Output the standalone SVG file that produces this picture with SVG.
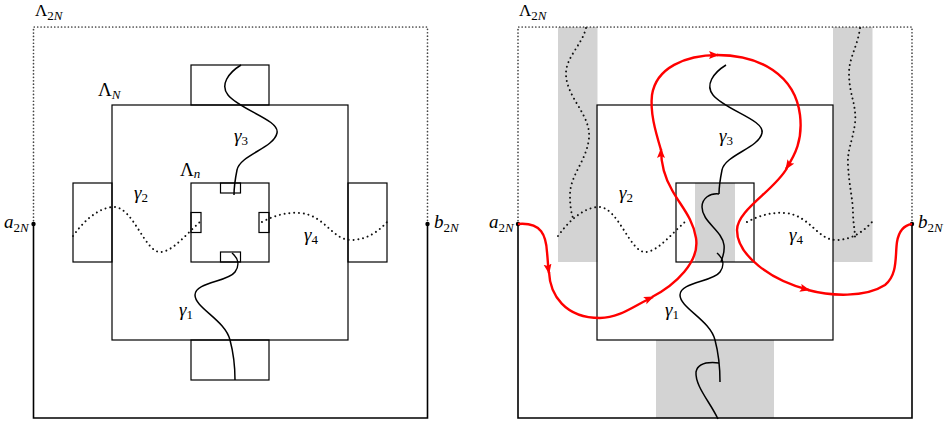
<svg xmlns="http://www.w3.org/2000/svg" width="952" height="424" viewBox="0 0 952 424">
<defs>
<style>
.box{fill:none;stroke:#000;stroke-width:1.2}
.frame{fill:none;stroke:#000;stroke-width:1.6}
.dotf{fill:none;stroke:#444;stroke-width:1.7;stroke-dasharray:0.01 3.4;stroke-linecap:round}
.dotc{fill:none;stroke:#111;stroke-width:2;stroke-dasharray:0.01 4.8;stroke-linecap:round}
.curve{fill:none;stroke:#000;stroke-width:1.5}
.red{fill:none;stroke:#ff0000;stroke-width:2.4;stroke-linejoin:round}
.shade{fill:#d3d3d3;stroke:none}
.t{font-family:"Liberation Serif","DejaVu Serif",serif;font-size:19px;fill:#000}
.top{font-size:17px}
.i{font-style:italic}
.s{font-size:13px}
</style>
<marker id="arr" markerUnits="userSpaceOnUse" markerWidth="12" markerHeight="10" refX="9" refY="4" orient="auto">
<path d="M0,0 L10,4 L0,8 L2,4 Z" fill="#ff0000"/>
</marker>
</defs>
<rect width="952" height="424" fill="#fff"/>

<!-- LEFT DIAGRAM -->
<g id="left-lambda2N">
<path class="dotf" d="M33.5,224 V27 H427.5 V224"/>
<path class="frame" d="M33.5,224 V418 H427.5 V224"/>
<circle cx="33.5" cy="224" r="2.2"/>
<circle cx="427.5" cy="224" r="2.2"/>
<text class="t top" x="35" y="16">Λ<tspan class="s" dy="4">2</tspan><tspan class="s i">N</tspan></text>
<text class="t i" x="4" y="228">a<tspan class="s" dy="4" font-style="normal">2</tspan><tspan class="s">N</tspan></text>
<text class="t i" x="434" y="228">b<tspan class="s" dy="4" font-style="normal">2</tspan><tspan class="s">N</tspan></text>
</g>
<g id="left-lambdaN">
<rect class="box" x="112" y="105" width="236" height="235"/>
<text class="t" x="98" y="96">Λ<tspan class="s i" dy="3">N</tspan></text>
</g>
<g id="left-box-top"><rect class="box" x="191" y="65" width="78" height="40"/></g>
<g id="left-box-bottom"><rect class="box" x="191" y="340" width="78" height="40"/></g>
<g id="left-box-left"><rect class="box" x="73" y="183" width="39" height="79"/></g>
<g id="left-box-right"><rect class="box" x="348" y="183" width="39" height="79"/></g>
<g id="left-lambdan">
<rect class="box" x="191" y="183" width="78" height="79"/>
<rect class="box" x="220.5" y="183" width="20" height="10"/>
<rect class="box" x="220.5" y="252" width="20" height="10"/>
<rect class="box" x="191" y="212.5" width="10" height="20"/>
<rect class="box" x="259" y="212.5" width="10" height="20"/>
<text class="t" x="180" y="176">Λ<tspan class="s i" dy="2">n</tspan></text>
</g>
<g id="left-labels">
<text class="t i" x="134" y="199">γ<tspan class="s" dy="3" font-style="normal">2</tspan></text>
<text class="t i" x="234" y="142">γ<tspan class="s" dy="3" font-style="normal">3</tspan></text>
<text class="t i" x="304" y="241">γ<tspan class="s" dy="3" font-style="normal">4</tspan></text>
<text class="t i" x="179" y="316">γ<tspan class="s" dy="3" font-style="normal">1</tspan></text>
</g>

<!-- RIGHT DIAGRAM -->
<g id="right-shading">
<rect class="shade" x="558" y="27" width="39.5" height="235"/>
<rect class="shade" x="833" y="27" width="39.5" height="235"/>
<rect class="shade" x="656" y="340" width="118" height="78"/>
<rect class="shade" x="695" y="183" width="40" height="79"/>
</g>
<g id="right-lambda2N">
<path class="dotf" d="M518,224 V27 H912 V224"/>
<path class="frame" d="M518,224 V418 H912 V224"/>
<circle cx="518" cy="224" r="2.2"/>
<circle cx="912" cy="224" r="2.2"/>
<text class="t top" x="519" y="16">Λ<tspan class="s" dy="4">2</tspan><tspan class="s i">N</tspan></text>
<text class="t i" x="489" y="228">a<tspan class="s" dy="4" font-style="normal">2</tspan><tspan class="s">N</tspan></text>
<text class="t i" x="918" y="228">b<tspan class="s" dy="4" font-style="normal">2</tspan><tspan class="s">N</tspan></text>
</g>
<g id="right-lambdaN"><rect class="box" x="597" y="105" width="236" height="235"/></g>
<g id="right-lambdan"><rect class="box" x="676" y="183" width="78" height="79"/></g>
<g id="right-labels">
<text class="t i" x="619" y="199">γ<tspan class="s" dy="3" font-style="normal">2</tspan></text>
<text class="t i" x="719" y="142">γ<tspan class="s" dy="3" font-style="normal">3</tspan></text>
<text class="t i" x="789" y="241">γ<tspan class="s" dy="3" font-style="normal">4</tspan></text>
<text class="t i" x="665" y="316">γ<tspan class="s" dy="3" font-style="normal">1</tspan></text>
</g>

<g id="connectors">
<!-- left -->
<path class="dotc" d="M73,236 C88,215 103,207 114,207 C133,207 145,252 160,252 C173,252 188,232 201,221"/>
<path class="dotc" d="M262,222 C275,215 288,212 300,213 C325,215 332,240 351,240 C366,240 378,232 387,222"/>
<path class="curve" d="M241,65 C228,73 220,85 228,95 C240,110 280,120 277,133 C274,148 240,155 237,170 C235,180 234,188 234,195"/>
<path class="curve" d="M232,253 C238,258 240,265 235,272 C228,282 195,282 195,295 C195,308 225,320 230,340 C234,355 235,370 235,380"/>
<!-- right -->
<path class="dotc" d="M558,236 C573,215 588,207 599,207 C618,207 630,252 645,252 C658,252 673,232 686,221"/>
<path class="dotc" d="M747,222 C760,215 773,212 785,213 C810,215 817,240 836,240 C851,240 863,232 872,222"/>
<path class="dotc" d="M586,28 C582,45 565,58 566,75 C567,98 591,115 589,138 C587,160 570,175 570,195 C570,205 571,212 573,218"/>
<path class="dotc" d="M860,28 C858,45 849,58 849,73 C849,95 857,105 855,123 C853,140 847,150 848,165 C849,185 853,200 853,213 C853,222 855,230 855,238"/>
<path class="curve" d="M726,65 C713,73 705,85 713,95 C725,110 765,120 762,133 C759,148 725,155 722,170 C720,180 719,188 719,194"/>
<path class="curve" d="M719,194 C710,193 702,198 702,207 C702,222 722,230 724,245 C725,253 722,258 721,262"/>
<path class="curve" d="M717,253 C723,258 725,265 720,272 C713,282 680,282 680,295 C680,308 710,320 715,340 C719,355 720,370 720,382"/>
<path class="curve" d="M719,363 C710,362 698,362 696,372 C695,386 710,402 718,419"/>
<!-- red path -->
<path class="red" marker-end="url(#arr)" d="M518,224 C542,222 546,236 547,252 C548,262 548,267 549,273"/>
<path class="red" marker-end="url(#arr)" d="M549,272 C550,295 565,318 600,318 C620,318 635,305 653,297"/>
<path class="red" marker-end="url(#arr)" d="M652,297 C675,285 700,262 696,238 C693,218 680,205 672,190 C665,178 661,165 661,149"/>
<path class="red" marker-end="url(#arr)" d="M661,150 C655,130 650,112 652,95 C656,68 685,55 718,55"/>
<path class="red" marker-end="url(#arr)" d="M717,55 C760,55 795,75 800,115 C803,140 795,155 786,169"/>
<path class="red" marker-end="url(#arr)" d="M787,168 C775,190 737,210 737,230 C737,255 770,280 809,290"/>
<path class="red" d="M808,290 C830,296 865,298 885,285 C898,275 895,255 897,242 C899,230 905,225 912,224"/>
</g>
</svg>
